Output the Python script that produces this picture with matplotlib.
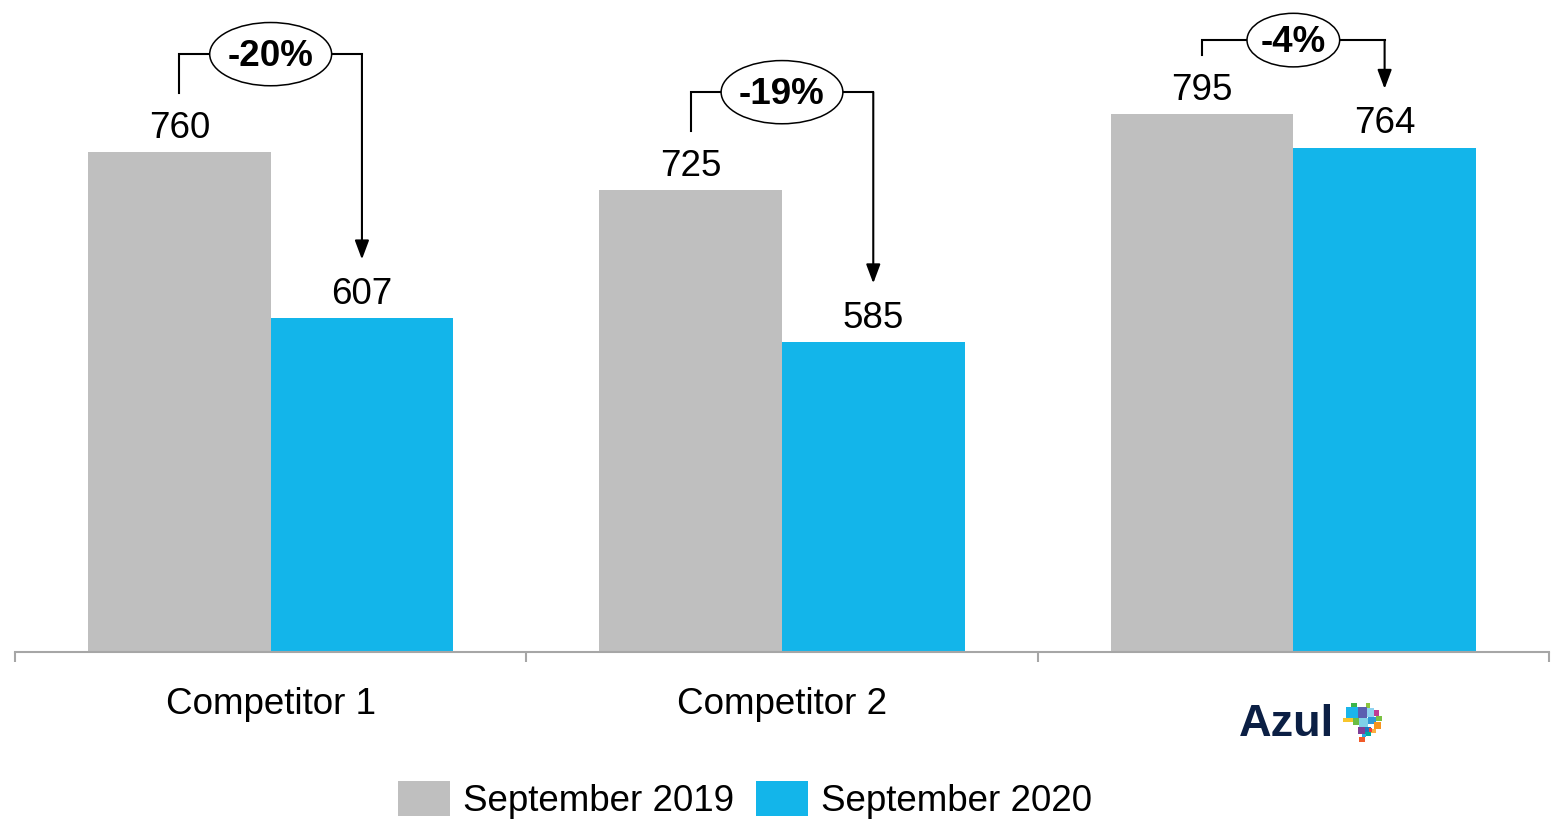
import matplotlib.pyplot as plt
from matplotlib.patches import Rectangle, Ellipse

plt.rcParams['font.family'] = ['Liberation Sans', 'DejaVu Sans']

categories = ['Competitor 1', 'Competitor 2', 'Azul']
sep_2019 = [760, 725, 795]
sep_2020 = [607, 585, 764]
series_names = ['September 2019', 'September 2020']

GRAY = '#bfbfbf'
BLUE = '#13b5ea'
W, H = 1562, 822
AX_L, AX_R, AX_B = 15, 1549, 652
Y0, Y1 = 300, 900
bar_w = 0.357
# height of each change bracket above the taller bar, in pixels
bracket_rise = [98, 98, 74]

fig = plt.figure(figsize=(W / 100, H / 100), dpi=100)
ax = fig.add_axes([AX_L / W, 1 - AX_B / H, (AX_R - AX_L) / W, AX_B / H])
ax.set_xlim(-0.5, len(categories) - 0.5)
ax.set_ylim(Y0, Y1)
renderer = fig.canvas.get_renderer()


def px(p):
    # pixel distance -> data units on the y axis
    return p * (Y1 - Y0) / AX_B


def pxx(p):
    # pixel distance -> data units on the x axis
    return p * len(categories) / (AX_R - AX_L)


x = list(range(len(categories)))
ax.bar([i - bar_w for i in x], sep_2019, bar_w, align='edge', color=GRAY,
       label=series_names[0])
ax.bar(x, sep_2020, bar_w, align='edge', color=BLUE, label=series_names[1])

for i in x:
    xg, xb = i - bar_w / 2, i + bar_w / 2
    a, b = sep_2019[i], sep_2020[i]
    ax.text(xg, a + px(24), f'{a}', ha='center', va='center', fontsize=26.5)
    ax.text(xb, b + px(24), f'{b}', ha='center', va='center', fontsize=26.5)

    yh = max(a, b) + px(bracket_rise[i])
    ax.plot([xg, xg, xb], [a + px(59), yh, yh], color='black', lw=1.5,
            solid_joinstyle='miter', zorder=3)
    ax.annotate('', xy=(xb, b + px(59)), xytext=(xb, yh),
                arrowprops=dict(arrowstyle='-|>,head_length=1.15,head_width=0.43',
                                color='black', lw=1.5, shrinkA=0, shrinkB=0,
                                mutation_scale=10), zorder=3)
    pct = round((b / a - 1) * 100)
    t = ax.text(i, yh - px(2), f'{pct}%', ha='center', va='center',
                fontsize=26.5, fontweight='bold', zorder=6)
    tw = t.get_window_extent(renderer).width
    ew = 1.42 * tw
    eh = 0.33 * ew + 23
    ax.add_patch(Ellipse((i, yh), pxx(ew), px(eh), fc='white', ec='black',
                         lw=1.1, zorder=5))

for s in ['top', 'left', 'right']:
    ax.spines[s].set_visible(False)
ax.spines['bottom'].set_color('#a6a6a6')
ax.spines['bottom'].set_linewidth(1.5)
ax.set_yticks([])
ax.set_xticks([i - 0.5 for i in range(len(categories) + 1)])
ax.set_xticklabels([])
ax.tick_params(axis='x', length=7.5, width=1.5, color='#a6a6a6', direction='out')

for i, name in enumerate(categories[:2]):
    ax.text(i, -52 / AX_B, name, transform=ax.get_xaxis_transform(),
            ha='center', va='center', fontsize=26.5)

# Azul wordmark with its small map of Brazil
fig.text(1286 / W, 1 - 724 / H, 'Azul', ha='center', va='center', fontsize=32.5,
         fontweight='bold', color='#0b1f44')
map_tiles = [
    (1351, 703, 6, 5, '#3cb54a'), (1366, 703, 4, 5, '#8dc63f'),
    (1346, 707, 12, 11, '#1bb5ea'), (1358, 707, 9, 11, '#5b5fb0'),
    (1367, 708, 7, 9, '#8fd3f0'), (1374, 710, 5, 6, '#c03c96'),
    (1376, 716, 6, 5, '#7ac143'), (1343, 718, 10, 4, '#f7c52c'),
    (1353, 718, 6, 7, '#6abd45'), (1359, 718, 9, 9, '#7fd1e8'),
    (1368, 717, 8, 7, '#2e9ad6'), (1374, 722, 7, 7, '#f7941d'),
    (1371, 729, 5, 4, '#fbb040'), (1358, 727, 7, 7, '#7f3f98'),
    (1365, 727, 6, 5, '#1d75bc'), (1365, 732, 6, 4, '#00a99d'),
    (1369, 728, 3, 4, '#ef4136'), (1362, 734, 4, 3, '#27aae1'),
    (1359, 737, 6, 5, '#f15a29'),
]
for tx, ty, tw_, th, tc in map_tiles:
    fig.add_artist(Rectangle((tx / W, 1 - (ty + th) / H), tw_ / W, th / H,
                             transform=fig.transFigure, color=tc, lw=0))

fig.legend(loc='center', bbox_to_anchor=(745 / W, 1 - 800 / H), ncol=2,
           frameon=False, fontsize=26.5, handlelength=1.41, handleheight=1.09,
           handletextpad=0.35, columnspacing=0.6, borderaxespad=0)

fig.savefig('out.png', dpi=100)
